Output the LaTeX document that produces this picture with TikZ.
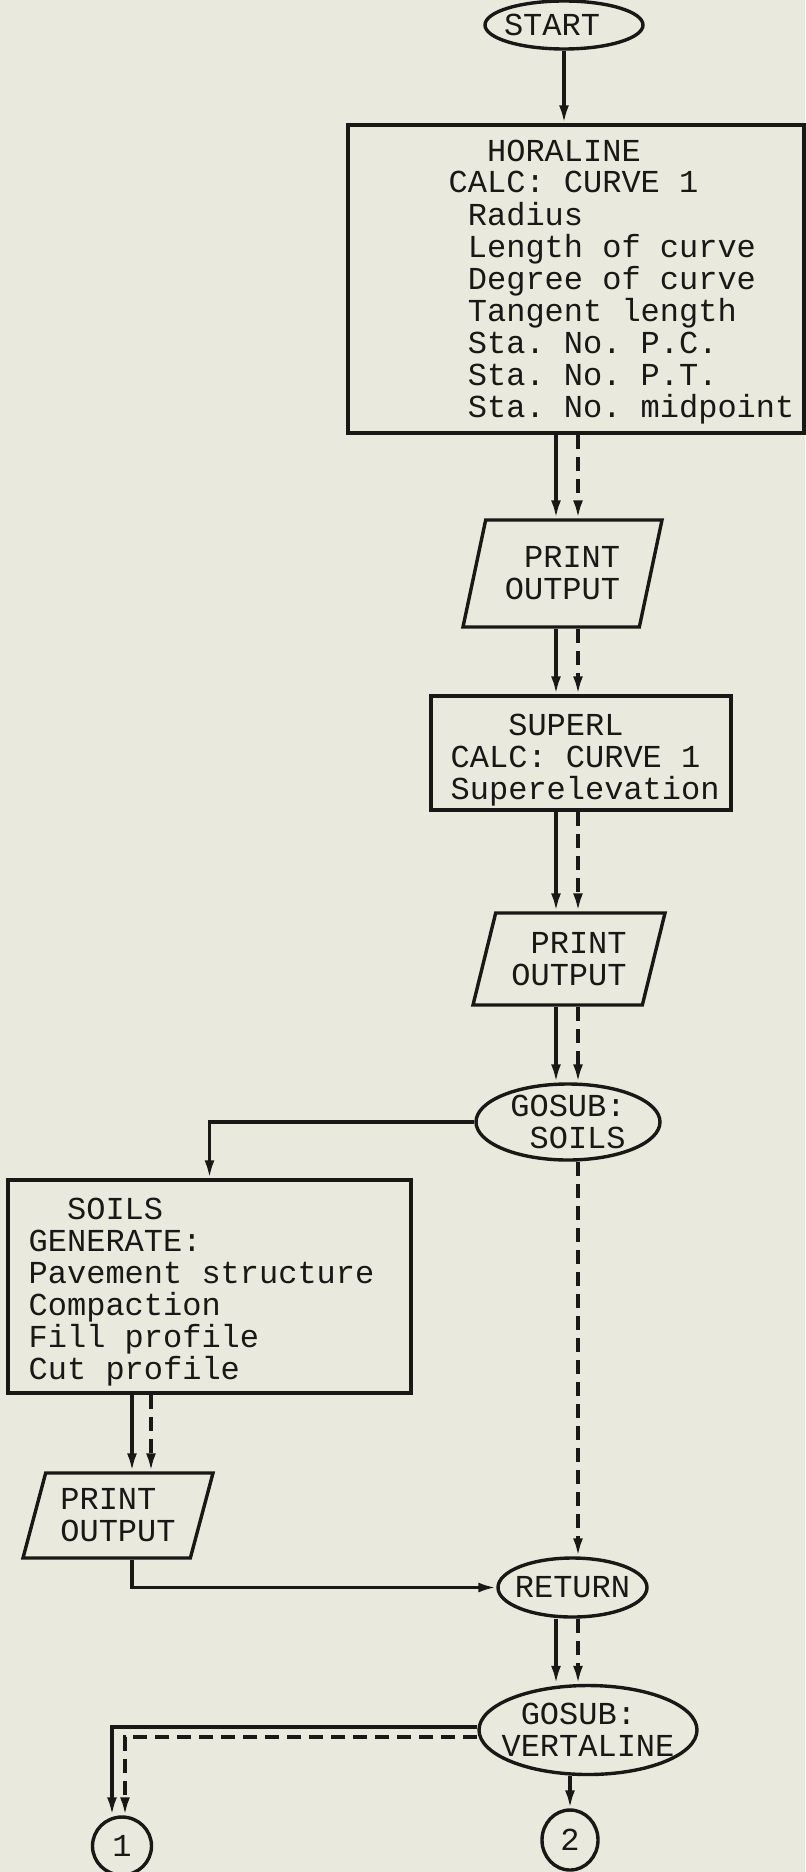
\documentclass[tikz,border=0pt]{standalone}
\usepackage{fontspec}
\setmonofont{Liberation Mono}
\usetikzlibrary{arrows.meta,shapes.geometric}
\definecolor{paper}{RGB}{234,233,221}
\definecolor{ink}{RGB}{24,24,22}
\newcommand\flowfont{\ttfamily\fontsize{16}{16}\selectfont}
\frenchspacing
\tikzset{
  procbox/.style={draw, rectangle, inner sep=0pt},
  boxtext/.style={align=left, inner sep=0pt, anchor=base west},
  iobox/.style={draw, trapezium, trapezium left angle=67, trapezium right angle=113,
    trapezium stretches body, inner sep=0pt, align=left},
  term/.style={draw, ellipse, inner xsep=-5pt, inner ysep=0pt, align=left},
  joint/.style={draw, ellipse, inner sep=0pt},
  flow/.style={-{Latex[length=9pt,width=5pt]}},
  faintflow/.style={flow, dash pattern=on 7pt off 4pt}
}

\begin{document}
\begin{tikzpicture}[x=0.5pt, y=-0.5pt, line width=1.7pt, color=ink, font=\flowfont]
\useasboundingbox (0,0) rectangle (805,1872);
\fill[paper] (0,0) rectangle (805,1872);

% main column (box texts sit on the baseline of their last line)
\node[term, minimum width=79pt, minimum height=24pt] (start) at (564,25) {START\hspace{12pt}};
\node[procbox, minimum width=228pt, minimum height=154pt] (hora) at (576,279) {};
\node[boxtext] (horatxt) at (447,417) {\ \ HORALINE\\CALC: CURVE 1\\\ Radius\\\ Length of curve\\\ Degree of curve\\\ Tangent length\\\ Sta. No. P.C.\\\ Sta. No. P.T.\\\ Sta. No. midpoint};
\node[iobox, minimum width=99.5pt, minimum height=53.5pt] (out1) at (562.5,573.5) {\ PRINT\\OUTPUT};
\node[procbox, minimum width=150pt, minimum height=57pt] (superl) at (581,753) {};
\node[boxtext] (superltxt) at (449,799) {\ \ \ SUPERL\\CALC: CURVE 1\\Superelevation};
\node[iobox, minimum width=96pt, minimum height=46pt] (out2) at (569,959) {\ PRINT\\OUTPUT};
\node[term, minimum width=92pt, minimum height=38pt] (gsoils) at (568,1122) {GOSUB:\\\ SOILS};

% soils branch
\node[procbox, minimum width=201.5pt, minimum height=106.5pt] (soils) at (209.5,1286.5) {};
\node[boxtext] (soilstxt) at (27,1379) {\ \ SOILS\\GENERATE:\\Pavement structure\\Compaction\\Fill profile\\Cut profile};
\node[iobox, minimum width=95pt, minimum height=42.5pt] (out3) at (118,1515.5) {PRINT\\OUTPUT};

\node[term, minimum width=74.5pt, minimum height=29.5pt] (ret) at (572.5,1587.5) {RETURN};
\node[term, minimum width=109pt, minimum height=44.5pt] (gvert) at (588,1730) {\ GOSUB:\\VERTALINE};
\node[joint, minimum width=29.5pt, minimum height=29pt] (c1) at (122,1846) {1};
\node[joint, minimum width=28pt, minimum height=30pt] (c2) at (570,1840) {2};

\coordinate (sl) at (556,0);
\coordinate (dl) at (578,0);
\coordinate (sl2) at (132,0);
\coordinate (dl2) at (151,0);

\draw[flow] (start) -- (start |- hora.north);
\draw[flow] (hora.south -| sl) -- (out1.north -| sl);
\draw[faintflow] (hora.south -| dl) -- (out1.north -| dl);
\draw[flow] (out1.south -| sl) -- (superl.north -| sl);
\draw[faintflow] (out1.south -| dl) -- (superl.north -| dl);
\draw[flow] (superl.south -| sl) -- (out2.north -| sl);
\draw[faintflow] (superl.south -| dl) -- (out2.north -| dl);
\draw[flow] (out2.south -| sl) -- (gsoils.north -| sl);
\draw[faintflow] (out2.south -| dl) -- (gsoils.north -| dl);

\draw[flow] (gsoils.west) -| (soils.north);
\draw[faintflow] (gsoils.south -| dl) -- (ret.north -| dl);
\draw[flow] (soils.south -| sl2) -- (out3.north -| sl2);
\draw[faintflow] (soils.south -| dl2) -- (out3.north -| dl2);
\draw[flow] (out3.south -| sl2) |- (ret.west);

\draw[flow] (ret.south -| sl) -- (gvert.north -| sl);
\draw[faintflow] (ret.south -| dl) -- (gvert.north -| dl);
\draw[flow] ([yshift=1.5pt]gvert.west) -| ([xshift=-5pt]c1.north);
\draw[faintflow] ([yshift=-3.5pt]gvert.west) -| ([xshift=1.5pt]c1.north);
\draw[flow] (gvert.south -| c2.north) -- (c2.north);
\end{tikzpicture}
\end{document}
